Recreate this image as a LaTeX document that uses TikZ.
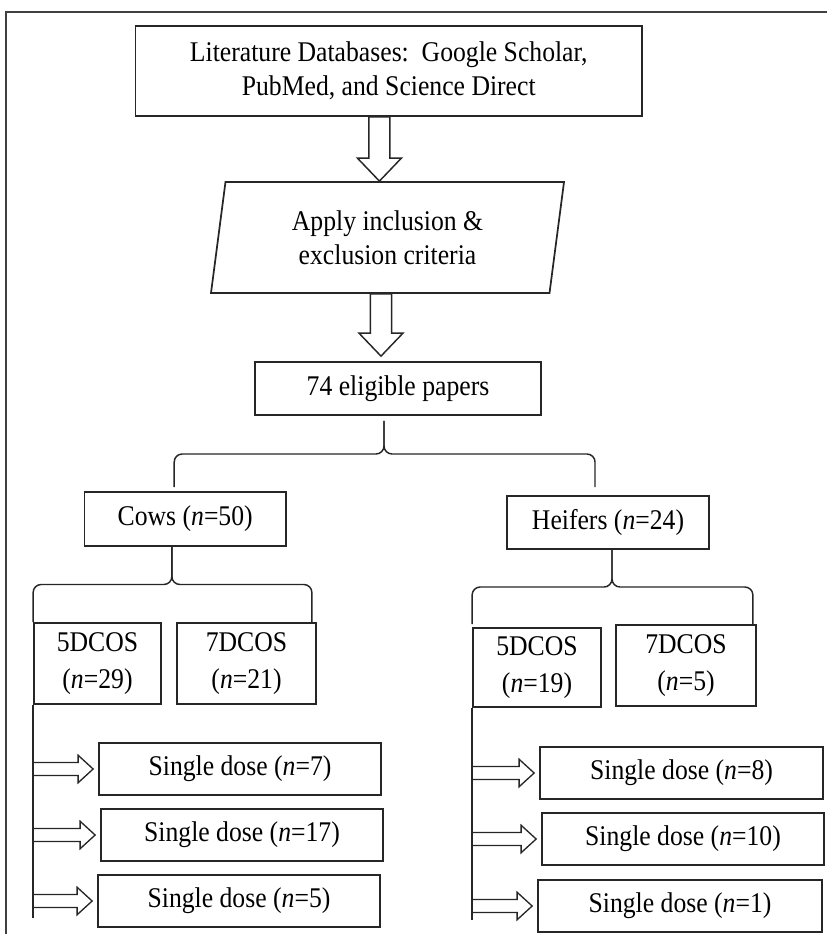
\documentclass[tikz,border=0pt]{standalone}
\usepackage{fontspec}
\setmainfont[FakeStretch=0.9]{Liberation Serif}
\usepackage{tikz}
\usetikzlibrary{calc,shapes.geometric}

\tikzset{
  box/.style={draw=black!85, line width=1.3pt, inner sep=0pt, align=center,
    font=\fontsize{21.4}{25.5}\selectfont},
  twoline/.style={box, font=\fontsize{21.4}{27.75}\selectfont},
  bracket/.style={draw=black!85, line width=1.1pt, rounded corners=6pt},
  hollow down/.style={draw=black!85, line width=1.1pt, to path={
    let \p1=(\tikztostart), \p2=(\tikztotarget) in
    (\x1-7.9pt,\y1) -- (\x1-7.9pt,\y2-17.25pt) -- (\x1-16.5pt,\y2-17.25pt) -- (\x1,\y2)
    -- (\x1+16.5pt,\y2-17.25pt) -- (\x1+7.9pt,\y2-17.25pt) -- (\x1+7.9pt,\y1) -- cycle}},
  hollow right/.style={draw=black!85, line width=1pt, to path={
    let \p1=(\tikztostart), \p2=(\tikztotarget) in
    (\x1,\y1+4.9pt) -- (\x2-11.25pt,\y1+4.9pt) -- (\x2-11.25pt,\y1+10.3pt) -- (\x2,\y1)
    -- (\x2-11.25pt,\y1-10.3pt) -- (\x2-11.25pt,\y1-4.9pt) -- (\x1,\y1-4.9pt) -- cycle}}
}

\newcommand{\splitbrace}[3]{%
  \path (#1) -- coordinate[pos=0.5] (#1m) (#2);
  \draw[bracket] (#2) -- (#2 |- #1m) -- (#1 |- #1m) -- (#1);
  \draw[bracket] (#3) -- (#3 |- #1m) -- (#1 |- #1m) -- (#1);
}

\begin{document}
\begin{tikzpicture}[x=0.75pt,y=0.75pt,yscale=-1,xscale=1]
\useasboundingbox (0,0) rectangle (827,934);

%Frame
\draw[draw=black!75, line width=1.1pt] (6,945) -- (6,12) -- (840,12) ;

% Text Node
\node[box, minimum width=379.9pt, minimum height=67.5pt] (db) at (388.75,71)
  {Literature Databases:\ \ Google Scholar,\\PubMed, and Science Direct};
% Shape: Parallelogram
\node[box, trapezium, trapezium left angle=75, trapezium right angle=105,
  trapezium stretches body, minimum width=264.75pt, minimum height=83.25pt] (crit) at (387.5,237.5)
  {Apply inclusion \&\\exclusion criteria};
% Text Node
\node[box, minimum width=214.5pt, minimum height=39.75pt] (papers) at (398,388.5) {74 eligible papers};
% Text Node
\node[box, minimum width=151.2pt, minimum height=40.5pt] (cows) at (185.2,519) {Cows (\textit{n}=50)};
\node[box, minimum width=151.5pt, minimum height=39.75pt] (heifers) at (608,522.5) {Heifers (\textit{n}=24)};
% Text Node
\node[twoline, minimum width=95.25pt, minimum height=60.75pt] (c5) at (97.5,663.5) {5DCOS\\(\textit{n}=29)};
\node[twoline, minimum width=104.25pt, minimum height=60.75pt] (c7) at (246.5,663.5) {7DCOS\\(\textit{n}=21)};
\node[twoline, minimum width=96pt, minimum height=59.25pt] (h5) at (537,667.5) {5DCOS\\(\textit{n}=19)};
\node[twoline, minimum width=105pt, minimum height=60.75pt] (h7) at (686,665.5) {7DCOS\\(\textit{n}=5)};
% Text Node
\node[box, minimum width=211.5pt, minimum height=39pt] (cs1) at (240,769) {Single dose (\textit{n}=7)};
\node[box, minimum width=211.5pt, minimum height=39pt] (cs2) at (242,835) {Single dose (\textit{n}=17)};
\node[box, minimum width=211.5pt, minimum height=39pt] (cs3) at (239,901) {Single dose (\textit{n}=5)};
\node[box, minimum width=212.25pt, minimum height=39pt] (hs1) at (681.5,773) {Single dose (\textit{n}=8)};
\node[box, minimum width=211.5pt, minimum height=39pt] (hs2) at (683,839) {Single dose (\textit{n}=10)};
\node[box, minimum width=213pt, minimum height=39pt] (hs3) at (680,906) {Single dose (\textit{n}=1)};

%Block Arrows
\draw[hollow down] ([xshift=-7pt]db.south) to (crit.north) ;
\draw[hollow down] ([xshift=-4.9pt]crit.south) to ([yshift=-3.75pt]papers.north) ;

%Braces
\coordinate (b1) at ([xshift=-10.5pt,yshift=3.75pt]papers.south);
\coordinate (b1l) at ([xshift=-8.25pt,yshift=-3pt]cows.north);
\coordinate (b1r) at ([xshift=-9.75pt,yshift=-6pt]heifers.north);
\splitbrace{b1}{b1l}{b1r}
\coordinate (b2) at ([xshift=-10pt]cows.south);
\coordinate (b2r) at ([xshift=-3.75pt]c7.north east);
\splitbrace{b2}{c5.north west}{b2r}
\coordinate (b3) at ([xshift=3pt]heifers.south);
\coordinate (b3l) at ([yshift=-2.25pt]h5.north west);
\coordinate (b3r) at ([xshift=-3pt]h7.north east);
\splitbrace{b3}{b3l}{b3r}

%Straight Lines
\coordinate (cend) at (34,918);
\coordinate (hend) at (474,920);
\draw[draw=black!85, line width=1.1pt] (c5.south west) -- (c5.south west |- cend) ;
\draw[draw=black!85, line width=1.1pt] (h5.south west) -- (h5.south west |- hend) ;

%Side Arrows
\foreach \s in {cs1,cs2,cs3}
  \draw[hollow right] (c5.south west |- \s.west) to ([xshift=-3.75pt]\s.west) ;
\foreach \s in {hs1,hs2,hs3}
  \draw[hollow right] (h5.south west |- \s.west) to ([xshift=-3.75pt]\s.west) ;

\end{tikzpicture}
\end{document}
